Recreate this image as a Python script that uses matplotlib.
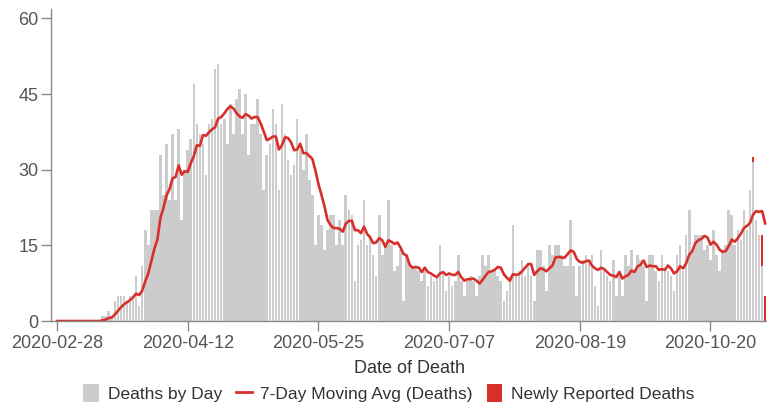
import matplotlib

matplotlib.use("Agg")

import matplotlib.pyplot as plt
import numpy as np
import pandas as pd
from matplotlib.lines import Line2D
from matplotlib.patches import Patch

# daily deaths (gray bars), one value per day starting 2020-02-28
deaths_by_day = [
    0, 0, 0, 0, 0, 0, 0, 0, 0, 0, 0, 0, 0, 0, 0,
    1, 1, 2, 1, 4, 5, 5, 5, 4, 5, 5,
    9, 3, 11, 18, 15, 22, 22, 22, 33, 25,
    35, 24, 37, 24, 38, 20, 30, 34, 36, 47,
    39, 37, 35, 29, 39, 40, 50, 51, 39, 40,
    35, 43, 37, 44, 46, 37, 45, 33, 39, 39,
    44, 37, 26, 33, 35, 42, 39, 26, 43, 37,
    32, 29, 31, 40, 34, 30, 37, 28, 25, 15,
    21, 19, 14, 18, 21, 21, 15, 20, 15, 25,
    22, 21, 8, 15, 16, 24, 15, 17, 13, 9,
    21, 13, 15, 24, 15, 10, 11, 14, 4, 13,
    11, 11, 11, 10, 8, 10, 7, 9, 8, 9,
    15, 10, 6, 9, 7, 8, 13, 8, 5, 8,
    9, 8, 5, 9, 13, 11, 13, 10, 10, 9,
    8, 4, 6, 9, 19, 9, 10, 12, 9, 11,
    9, 4, 14, 14, 11, 6, 15, 13, 15, 15,
    13, 11, 11, 20, 11, 5, 11, 12, 13, 12,
    13, 7, 3, 14, 10, 9, 8, 12, 5, 10,
    5, 13, 11, 14, 10, 13, 12, 11, 4, 13,
    13, 10, 8, 13, 10, 10, 9, 6, 13, 15,
    10, 17, 22, 14, 17, 17, 17, 14, 15, 12,
    18, 13, 10, 14, 15, 22, 21, 15, 18, 16,
    22, 18, 26, 31.5, 20, 17, 11, 0,
]

# newly reported deaths (red, stacked on top)
newly_reported_day = [229, 232, 233]
newly_reported_count = [1, 6, 5]

tick_days = [0, 43, 86, 129, 172, 215]
tick_labels = ["2020-02-28", "2020-04-12", "2020-05-25",
               "2020-07-07", "2020-08-19", "2020-10-20"]

plt.rcParams["font.family"] = ["Liberation Sans", "DejaVu Sans"]

days = np.arange(len(deaths_by_day))
deaths = np.array(deaths_by_day, dtype=float)
newly = np.zeros_like(deaths)
newly[newly_reported_day] = newly_reported_count
moving_avg = pd.Series(deaths + newly).rolling(7, min_periods=1).mean()

fig = plt.figure(figsize=(7.67, 4.04), dpi=100)
ax = fig.add_axes([0.0665, 0.2054, 0.9335, 0.7716])

ax.bar(days, deaths, width=0.86, color="#cccccc", linewidth=0)
ax.bar(days, newly, width=0.86, bottom=deaths, color="#d7302b", linewidth=0)
ax.plot(days, moving_avg, color="#d7302b", linewidth=1.9, solid_joinstyle="round")

ax.set_xlim(-2, 233.6)
ax.set_ylim(0, 61.8)
ax.set_yticks([0, 15, 30, 45, 60])
ax.set_xticks(tick_days)
ax.set_xticklabels(tick_labels)

for side in ("top", "right"):
    ax.spines[side].set_visible(False)
for side in ("left", "bottom"):
    ax.spines[side].set_color("#8a8a8a")
    ax.spines[side].set_linewidth(1.0)
ax.tick_params(axis="both", colors="#8a8a8a", labelcolor="#555555",
               labelsize=13, length=7, width=1.0)
ax.tick_params(axis="y", pad=2)
ax.tick_params(axis="x", pad=3)

fig.text(0.534, 0.089, "Date of Death", ha="center", va="center",
         fontsize=13, color="#333333")

handles = [
    Patch(facecolor="#cccccc", edgecolor="none"),
    Line2D([0], [0], color="#d7302b", linewidth=2),
    Patch(facecolor="#d7302b", edgecolor="none"),
]
labels = ["Deaths by Day", "7-Day Moving Avg (Deaths)", "Newly Reported Deaths"]
leg = fig.legend(handles, labels, loc="center", bbox_to_anchor=(0.507, 0.027),
                 ncol=3, frameon=False, fontsize=12.5, handlelength=0.9,
                 handleheight=1.2, handletextpad=0.5, columnspacing=0.8)
for t in leg.get_texts():
    t.set_color("#333333")

fig.savefig("out.png", dpi=100)
